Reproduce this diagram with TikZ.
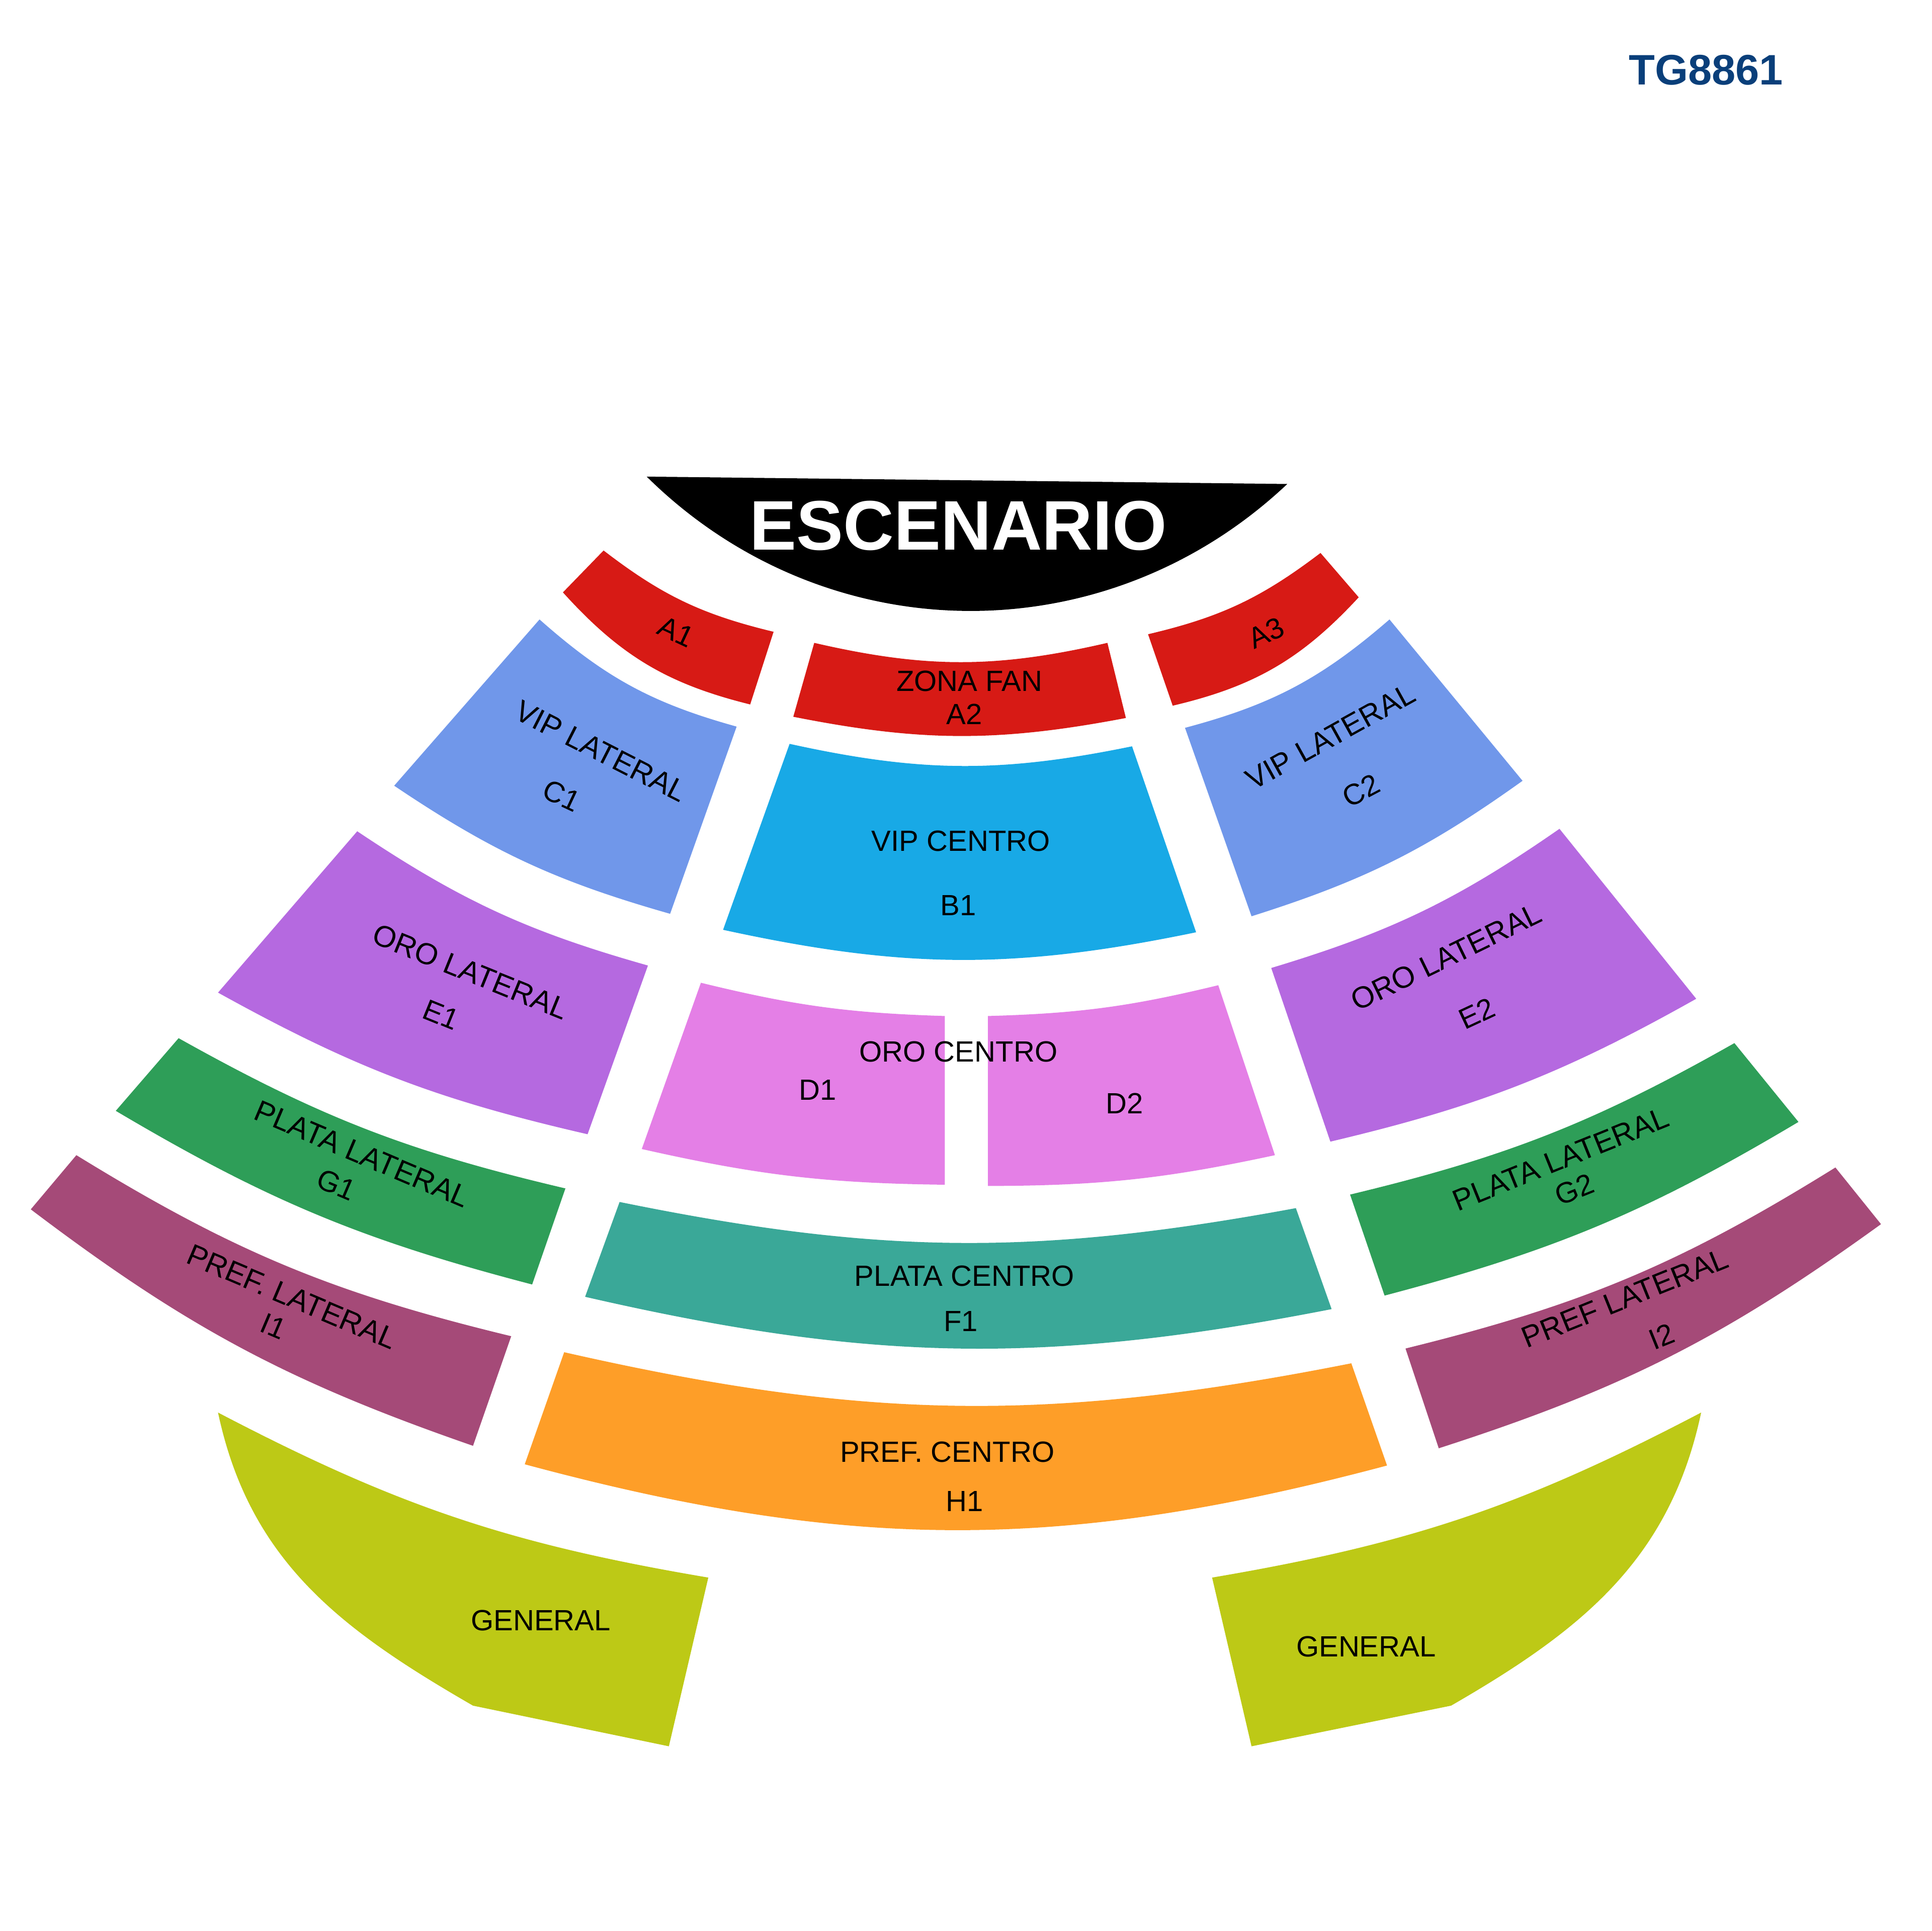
\documentclass[tikz,border=0pt]{standalone}
\usepackage{fontspec}
\setmainfont{Liberation Sans}
\usepackage{tikz}
\definecolor{rojofan}{HTML}{D71A15}
\definecolor{viplat}{HTML}{7097EA}
\definecolor{vipcen}{HTML}{18A9E6}
\definecolor{orolat}{HTML}{B569E0}
\definecolor{orocen}{HTML}{E47FE6}
\definecolor{platalat}{HTML}{2E9E58}
\definecolor{platacen}{HTML}{3AA898}
\definecolor{preflat}{HTML}{A54A78}
\definecolor{prefcen}{HTML}{FE9E28}
\definecolor{general}{HTML}{BDC916}
\definecolor{codigo}{HTML}{0A3F7A}

\begin{document}
\begin{tikzpicture}[x=0.01cm,y=-0.01cm,
        zona/.style={inner sep=0pt,font=\fontsize{6.75}{8}\selectfont,text=black},
        zonalat/.style={inner sep=0pt,font=\fontsize{6.92}{8}\selectfont,text=black}]
        \useasboundingbox (0,0) rectangle (1568,1568);
        % escenario
        \fill[black] (525,387) -- (1045,393) to[bend left=44] (525,387) -- cycle;
        % fila A
        \fill[rojofan] (490,447) to[bend right=12] (628,513) -- (609,572) to[bend left=17] (457,481) -- cycle;
        \fill[rojofan] (661,522) to[bend right=13] (899,522) -- (914,583) to[bend left=11] (644,582) -- cycle;
        \fill[rojofan] (932,515) to[bend right=12] (1072,449) -- (1103,485) to[bend left=17] (952,573) -- cycle;
        % vip
        \fill[viplat] (438,503) to[bend right=13] (598,590) -- (544,742) to[bend left=9] (320,638) -- cycle;
        \fill[vipcen] (641,604) to[bend right=12] (919,606) -- (971,757) to[bend left=12] (587,755) -- cycle;
        \fill[viplat] (962,591) to[bend right=13] (1128,503) -- (1236,634) to[bend left=9] (1016,744) -- cycle;
        % oro
        \fill[orolat] (290,675) to[bend right=9] (526,784) -- (477,921) to[bend left=8] (177,806) -- cycle;
        \fill[orocen] (569,798) to[bend right=6] (767,825) -- (767,962) to[bend left=6] (521,933) -- cycle;
        \fill[orocen] (802,825) to[bend right=6] (989,800) -- (1035,938) to[bend left=6] (802,963) -- cycle;
        \fill[orolat] (1032,786) to[bend right=9] (1266,673) -- (1377,811) to[bend left=8] (1080,927) -- cycle;
        % plata
        \fill[platalat] (145,843) to[bend right=8] (459,965) -- (432,1043) to[bend left=8] (94,902) -- cycle;
        \fill[platacen] (503,976) to[bend right=11] (1052,981) -- (1081,1063) to[bend left=12] (475,1053) -- cycle;
        \fill[platalat] (1096,970) to[bend right=8] (1408,847) -- (1460,911) to[bend left=8] (1124,1052) -- cycle;
        % pref
        \fill[preflat] (62,938) to[bend right=9] (415,1085) -- (384,1174) to[bend left=9] (25,982) -- cycle;
        \fill[prefcen] (458,1098) to[bend right=12] (1097,1107) -- (1126,1190) to[bend left=15] (426,1189) -- cycle;
        \fill[preflat] (1141,1095) to[bend right=9] (1490,948) -- (1527,994) to[bend left=9] (1168,1176) -- cycle;
        % general
        \fill[general] (177,1147) to[bend right=9] (575,1281) -- (543,1418) -- (384,1385) to[out=150,in=-78] (177,1147) -- cycle;
        \fill[general] (984,1281) to[bend right=9] (1381,1147) to[out=-102,in=30] (1178,1385) -- (1016,1418) -- cycle;

        \node[inner sep=0pt,text=white,font=\fontsize{16.2}{18}\selectfont\bfseries] (escenario) at (778,427) {ESCENARIO};
        \node[inner sep=0pt,text=codigo,font=\fontsize{9.85}{11}\selectfont\bfseries] (codigo) at (1385,57) {TG8861};
        \node[zona,rotate=-25] (a1) at (549,513) {A1};
        \node[zona] (fan) at (787,553) {ZONA FAN};
        \node[zona] (a2) at (783,580) {A2};
        \node[zona,rotate=25] (a3) at (1028,514) {A3};
        \node[zonalat,rotate=-27] (viplat1) at (488,610) {VIP LATERAL};
        \node[zona,rotate=-25] (c1) at (456,646) {C1};
        \node[zona] (vipcen) at (780,683) {VIP CENTRO};
        \node[zona] (b1) at (778,735) {B1};
        \node[zonalat,rotate=29] (viplat2) at (1080,598) {VIP LATERAL};
        \node[zona,rotate=28] (c2) at (1105,642) {C2};
        \node[zonalat,rotate=-22] (orolat1) at (382,789) {ORO LATERAL};
        \node[zona,rotate=-22] (e1) at (358,824) {E1};
        \node[zona] (orocen) at (778,854) {ORO CENTRO};
        \node[zona] (d1) at (664,885) {D1};
        \node[zona] (d2) at (913,896) {D2};
        \node[zonalat,rotate=26] (orolat2) at (1174,777) {ORO LATERAL};
        \node[zona,rotate=25] (e2) at (1199,823) {E2};
        \node[zonalat,rotate=-23] (platalat1) at (294,937) {PLATA LATERAL};
        \node[zona,rotate=-23] (g1) at (273,962) {G1};
        \node[zona] (platacen) at (783,1036) {PLATA CENTRO};
        \node[zona] (f1) at (780,1073) {F1};
        \node[zonalat,rotate=22] (platalat2) at (1267,941) {PLATA LATERAL};
        \node[zona,rotate=22] (g2) at (1278,966) {G2};
        \node[zonalat,rotate=-23] (preflat1) at (237,1053) {PREF. LATERAL};
        \node[zona,rotate=-23] (i1) at (222,1077) {I1};
        \node[zona] (prefcen) at (769,1179) {PREF. CENTRO};
        \node[zona] (h1) at (783,1219) {H1};
        \node[zonalat,rotate=22] (preflat2) at (1319,1054) {PREF LATERAL};
        \node[zona,rotate=22] (i2) at (1349,1085) {I2};
        \node[zona] (general1) at (439,1316) {GENERAL};
        \node[zona] (general2) at (1109,1337) {GENERAL};
    \end{tikzpicture}
\end{document}
